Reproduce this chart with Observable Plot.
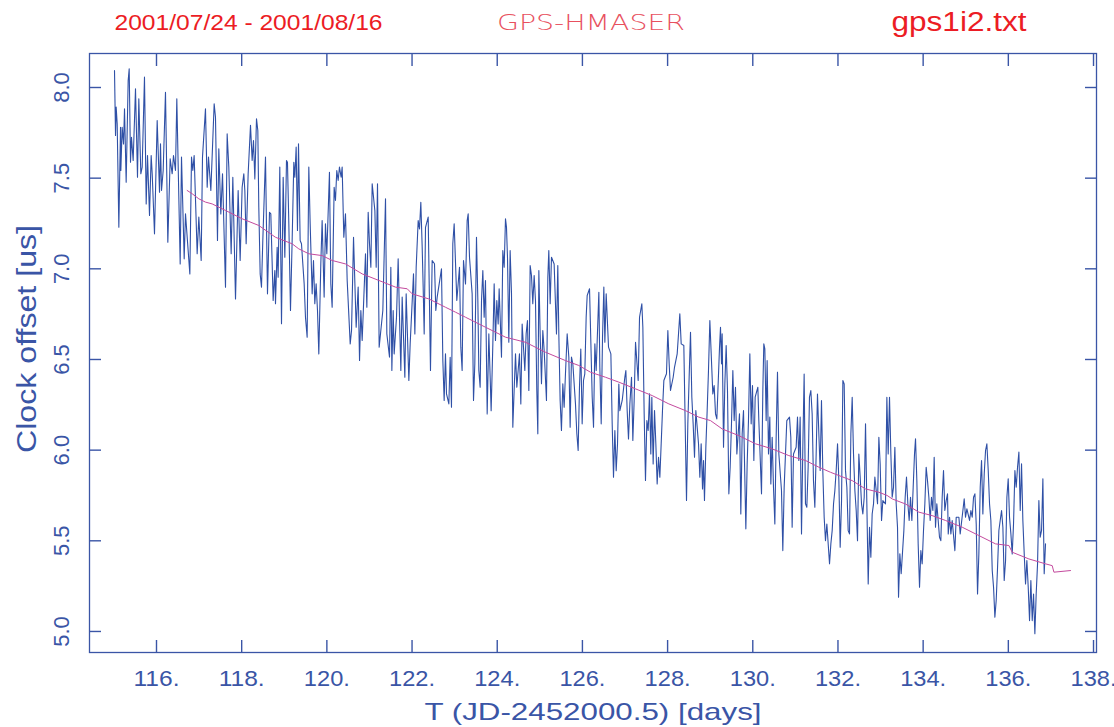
<!DOCTYPE html>
<html><head><meta charset="utf-8">
<script src="https://cdn.jsdelivr.net/npm/d3@7"></script>
<script src="https://cdn.jsdelivr.net/npm/@observablehq/plot@0.6"></script>
<style>
body{margin:0;background:#fff;}
#wrap{width:1114px;height:727px;}
</style></head><body><div id="wrap"></div>
<script>
// Clock offset (blue, raw) : [day, offset us]
const bluePoints = [
[115.014,8.094],[115.038,7.735],[115.053,7.892],[115.077,7.80],[115.116,7.23],[115.155,7.781],[115.163,7.542],[115.194,7.781],[115.226,7.689],[115.249,7.882],
[115.288,7.478],[115.335,8.039],[115.359,8.103],[115.39,7.588],[115.413,7.726],[115.452,7.597],[115.507,7.993],[115.554,7.505],[115.585,7.938],[115.632,7.524],
[115.664,7.561],[115.718,8.057],[115.758,7.358],[115.789,7.625],[115.836,7.294],[115.875,7.625],[115.899,7.524],[115.953,7.193],[116.016,7.818],[116.071,7.423],
[116.094,7.689],[116.118,7.432],[116.157,7.542],[116.211,7.974],[116.266,7.147],[116.321,7.607],[116.368,7.524],[116.399,7.625],[116.446,7.542],[116.477,7.938],
[116.556,7.027],[116.587,7.616],[116.65,7.055],[116.681,7.303],[116.783,6.972],[116.822,7.616],[116.853,7.542],[116.884,7.625],[116.955,7.083],[116.994,7.285],
[117.049,7.046],[117.08,7.616],[117.15,7.882],[117.19,7.45],[117.221,7.616],[117.276,7.432],[117.354,7.91],[117.385,7.836],[117.432,7.156],[117.463,7.662],
[117.51,7.303],[117.55,7.524],[117.62,6.899],[117.659,7.744],[117.698,7.561],[117.753,7.083],[117.792,7.505],[117.855,6.834],[117.917,7.432],[117.964,7.046],
[118.011,7.45],[118.05,7.524],[118.074,7.432],[118.105,7.138],[118.152,7.524],[118.207,7.791],[118.246,7.597],[118.277,7.708],[118.309,7.496],[118.348,7.827],
[118.379,7.763],[118.402,7.34],[118.434,6.972],[118.465,6.899],[118.496,7.156],[118.559,7.616],[118.606,6.862],[118.653,7.312],[118.684,7.303],[118.716,7.028],
[118.739,6.825],[118.778,6.991],[118.794,6.807],[118.833,7.119],[118.856,6.954],[118.895,7.561],[118.935,6.697],[118.974,7.505],[119.013,7.064],[119.052,7.597],
[119.075,7.588],[119.107,7.248],[119.146,6.77],[119.185,7.156],[119.224,7.588],[119.248,7.505],[119.279,7.671],[119.31,7.211],[119.334,7.689],[119.373,7.156],
[119.404,7.138],[119.467,6.917],[119.498,6.733],[119.537,6.623],[119.576,7.561],[119.608,7.248],[119.655,6.862],[119.686,7.046],[119.717,6.807],[119.748,6.917],
[119.78,6.77],[119.811,6.531],[119.858,7.028],[119.889,7.266],[119.936,6.844],[119.967,7.248],[119.999,7.083],[120.061,7.533],[120.093,6.917],[120.124,6.788],
[120.171,7.45],[120.202,7.377],[120.233,7.542],[120.265,7.487],[120.296,7.561],[120.335,7.505],[120.359,7.561],[120.398,7.174],[120.437,7.303],[120.477,6.936],
[120.548,6.586],[120.579,6.66],[120.626,7.174],[120.688,6.678],[120.735,6.899],[120.767,6.494],[120.798,6.77],[120.829,6.605],[120.868,6.844],[120.907,7.083],
[120.939,6.788],[120.97,7.312],[121.001,7.138],[121.033,7.009],[121.064,7.469],[121.127,7.321],[121.158,7.009],[121.189,7.469],[121.228,6.568],[121.314,6.77],
[121.377,7.386],[121.408,6.641],[121.471,6.513],[121.502,7.009],[121.526,6.439],[121.557,6.77],[121.58,6.531],[121.635,6.733],[121.674,7.055],[121.713,6.66],
[121.737,6.439],[121.768,6.844],[121.831,6.402],[121.862,6.862],[121.925,6.384],[121.956,6.586],[122.034,6.972],[122.066,6.641],[122.097,7.009],[122.144,7.266],
[122.175,7.22],[122.206,7.367],[122.238,7.119],[122.261,6.899],[122.285,6.641],[122.316,7.229],[122.379,7.285],[122.433,6.439],[122.472,7.046],[122.527,7.028],
[122.558,6.77],[122.59,6.844],[122.691,7.0],[122.723,6.494],[122.754,6.274],[122.785,6.531],[122.809,6.31],[122.864,6.255],[122.895,6.512],[122.926,6.237],
[122.957,7.138],[122.989,7.248],[123.051,6.825],[123.114,7.009],[123.145,6.568],[123.176,6.439],[123.208,7.046],[123.255,6.917],[123.294,7.266],[123.318,7.303],
[123.349,7.064],[123.411,6.862],[123.443,6.274],[123.474,6.476],[123.513,7.174],[123.545,6.825],[123.568,6.439],[123.599,6.347],[123.631,6.825],[123.662,6.991],
[123.693,6.733],[123.724,6.936],[123.764,6.2],[123.803,6.641],[123.834,6.402],[123.857,6.218],[123.897,6.586],[123.928,6.917],[123.959,6.605],[123.99,6.825],
[124.022,6.696],[124.045,6.89],[124.077,6.678],[124.1,6.513],[124.131,7.101],[124.163,7.009],[124.194,7.276],[124.217,7.23],[124.241,7.064],[124.272,6.595],
[124.303,7.101],[124.335,6.862],[124.366,6.126],[124.397,6.329],[124.429,6.531],[124.46,6.347],[124.491,6.439],[124.522,6.531],[124.554,6.255],[124.585,6.696],
[124.648,6.439],[124.679,6.641],[124.71,6.715],[124.742,6.329],[124.773,7.018],[124.804,6.963],[124.835,6.807],[124.867,6.963],[124.898,6.825],[124.929,6.329],
[124.953,6.09],[124.977,6.991],[125.008,6.641],[125.039,6.366],[125.07,6.66],[125.102,6.549],[125.156,6.274],[125.188,6.954],[125.211,7.101],[125.243,6.807],
[125.274,7.064],[125.336,7.027],[125.391,6.641],[125.422,7.018],[125.446,6.641],[125.477,6.274],[125.508,6.108],[125.54,6.366],[125.571,6.237],[125.602,6.421],
[125.642,6.641],[125.681,6.513],[125.712,6.126],[125.743,6.513],[125.775,6.476],[125.837,6.255],[125.869,6.09],[125.9,5.998],[125.931,6.347],[125.962,6.558],
[125.994,6.145],[126.025,6.384],[126.056,6.421],[126.088,6.733],[126.112,6.853],[126.167,6.89],[126.23,6.292],[126.261,6.126],[126.292,6.586],[126.323,6.439],
[126.386,6.871],[126.409,6.457],[126.441,6.145],[126.472,6.623],[126.503,6.899],[126.527,6.595],[126.558,6.862],[126.613,6.568],[126.668,6.531],[126.699,6.145],
[126.73,5.851],[126.762,6.108],[126.793,5.887],[126.824,6.034],[126.855,6.365],[126.879,6.218],[126.934,6.274],[126.996,6.402],[127.02,6.439],[127.051,6.218],
[127.082,6.062],[127.114,6.255],[127.153,6.402],[127.184,6.053],[127.215,6.274],[127.247,6.595],[127.309,6.384],[127.341,6.733],[127.395,6.807],[127.419,6.678],
[127.45,6.2],[127.481,5.833],[127.513,6.163],[127.544,6.108],[127.575,6.311],[127.606,5.979],[127.63,6.292],[127.661,5.924],[127.693,6.218],[127.724,6.035],
[127.755,5.814],[127.787,5.961],[127.818,5.851],[127.88,6.218],[127.912,6.384],[127.974,6.421],[128.006,6.66],[128.037,6.476],[128.068,6.329],[128.131,6.402],
[128.162,6.457],[128.225,6.531],[128.256,6.641],[128.287,6.752],[128.319,6.586],[128.381,6.577],[128.444,5.722],[128.475,6.145],[128.506,6.402],[128.538,6.65],
[128.569,6.292],[128.6,6.145],[128.632,5.961],[128.663,6.218],[128.726,6.035],[128.757,5.851],[128.788,6.035],[128.82,5.786],[128.843,5.943],[128.866,5.722],
[128.898,6.016],[128.929,6.218],[128.96,6.439],[128.992,6.715],[129.062,6.31],[129.093,6.356],[129.125,6.2],[129.156,6.172],[129.219,6.568],[129.242,6.678],
[129.266,6.476],[129.281,6.641],[129.313,6.016],[129.344,6.365],[129.375,6.577],[129.406,6.329],[129.438,5.759],[129.469,5.906],[129.5,6.145],[129.532,6.439],
[129.563,6.163],[129.594,6.347],[129.626,5.979],[129.688,6.2],[129.719,5.648],[129.751,6.09],[129.782,6.218],[129.837,5.566],[129.868,5.924],[129.899,6.163],
[129.931,6.531],[129.962,6.145],[129.993,6.356],[130.025,5.943],[130.056,6.292],[130.119,6.347],[130.142,6.163],[130.205,5.759],[130.236,6.329],[130.259,6.586],
[130.283,6.558],[130.314,6.163],[130.337,6.494],[130.369,5.979],[130.4,6.182],[130.424,5.814],[130.455,6.071],[130.486,5.796],[130.518,5.593],[130.549,6.071],
[130.58,6.43],[130.612,5.979],[130.674,5.777],[130.705,5.446],[130.737,5.796],[130.799,6.163],[130.862,6.182],[130.893,6.071],[130.924,5.575],[130.956,5.979],
[131.018,6.016],[131.05,6.182],[131.081,5.943],[131.112,6.182],[131.144,5.538],[131.175,6.016],[131.206,6.42],[131.237,5.704],[131.269,5.685],[131.3,5.906],
[131.331,6.292],[131.363,6.329],[131.394,6.2],[131.425,5.832],[131.457,5.685],[131.488,5.979],[131.519,6.31],[131.551,6.09],[131.582,5.888],[131.613,6.273],
[131.644,5.888],[131.676,5.63],[131.707,5.501],[131.739,5.593],[131.802,5.373],[131.833,5.483],[131.864,5.556],[131.896,5.704],[131.927,5.777],[131.958,5.887],
[131.99,6.035],[132.021,5.832],[132.052,5.465],[132.084,5.722],[132.115,6.384],[132.146,6.365],[132.177,5.887],[132.209,5.795],[132.24,5.556],[132.271,5.538],
[132.303,6.09],[132.334,6.292],[132.365,5.979],[132.397,5.777],[132.428,5.667],[132.459,5.501],[132.49,5.979],[132.522,5.851],[132.553,5.704],[132.584,5.648],
[132.616,5.74],[132.647,6.145],[132.678,5.704],[132.71,5.262],[132.741,5.575],[132.772,5.409],[132.803,5.648],[132.835,5.704],[132.866,5.851],[132.929,5.704],
[132.96,6.071],[132.991,5.924],[133.023,5.612],[133.054,5.722],[133.116,5.704],[133.148,6.292],[133.179,5.979],[133.21,6.292],[133.242,5.979],[133.273,5.74],
[133.304,5.795],[133.336,6.016],[133.367,5.704],[133.398,5.575],[133.422,5.189],[133.453,5.428],[133.484,5.318],[133.547,5.556],[133.578,5.74],[133.609,5.851],
[133.641,5.704],[133.672,5.612],[133.703,5.74],[133.735,5.612],[133.766,5.795],[133.797,5.979],[133.821,6.062],[133.852,5.832],[133.883,5.483],[133.915,5.244],
[133.946,5.446],[133.977,5.373],[134.008,5.556],[134.04,5.704],[134.071,5.906],[134.102,5.832],[134.134,5.74],[134.165,5.612],[134.196,5.74],[134.228,5.667],
[134.259,5.961],[134.29,5.575],[134.321,5.704],[134.353,5.612],[134.384,5.52],[134.415,5.501],[134.447,5.74],[134.478,5.887],[134.509,5.667],[134.541,5.722],
[134.572,5.759],[134.589,5.538],[134.62,5.63],[134.651,5.538],[134.682,5.612],[134.745,5.446],[134.776,5.63],[134.839,5.63],[134.87,5.538],[134.933,5.667],
[134.964,5.731],[134.995,5.63],[135.027,5.676],[135.089,5.612],[135.121,5.667],[135.152,5.63],[135.183,5.74],[135.215,5.759],[135.246,5.593],[135.277,5.207],
[135.308,5.428],[135.34,5.795],[135.371,5.943],[135.402,5.648],[135.434,5.869],[135.465,5.998],[135.496,6.035],[135.528,5.887],[135.559,5.703],[135.59,5.612],
[135.622,5.336],[135.653,5.244],[135.684,5.079],[135.715,5.171],[135.747,5.354],[135.778,5.557],[135.809,5.612],[135.841,5.667],[135.872,5.575],[135.903,5.281],
[135.935,5.391],[135.966,5.74],[135.997,5.842],[136.028,5.63],[136.06,5.538],[136.091,5.428],[136.122,5.593],[136.154,5.887],[136.185,5.795],[136.216,5.906],
[136.248,5.989],[136.279,5.667],[136.31,5.924],[136.341,5.612],[136.373,5.428],[136.404,5.262],[136.435,5.391],[136.467,5.244],[136.498,5.06],[136.529,5.281],
[136.561,5.06],[136.592,5.207],[136.623,4.987],[136.654,5.207],[136.686,5.373],[136.717,5.722],[136.748,5.52],[136.78,5.557],[136.811,5.842],[136.842,5.318],
[136.873,5.483]
];
// Smoothed trend (magenta) : [day, offset us]
const trendPoints = [
[116.72,7.432],[116.838,7.414],[116.994,7.386],[117.15,7.368],[117.307,7.358],[117.463,7.34],[117.62,7.322],[118.011,7.276],[118.402,7.239],[118.794,7.174],
[119.185,7.138],[119.341,7.11],[119.576,7.083],[119.889,7.073],[120.124,7.046],[120.438,7.027],[120.829,6.972],[121.22,6.936],[121.612,6.899],[121.886,6.89],
[122.003,6.862],[122.394,6.834],[122.785,6.788],[123.02,6.761],[123.255,6.733],[123.724,6.678],[124.194,6.623],[124.663,6.595],[125.133,6.54],[125.602,6.494],
[125.915,6.467],[126.189,6.43],[126.542,6.402],[126.855,6.375],[127.247,6.338],[127.638,6.301],[128.029,6.255],[128.42,6.218],[128.733,6.182],[129.007,6.163],
[129.281,6.117],[129.672,6.08],[130.064,6.035],[130.455,6.007],[130.846,5.97],[131.237,5.943],[131.551,5.906],[131.824,5.878],[132.021,5.86],[132.334,5.832],
[132.647,5.786],[132.96,5.768],[133.155,5.75],[133.273,5.731],[133.586,5.703],[133.899,5.658],[134.212,5.639],[134.526,5.612],[134.917,5.575],[135.308,5.529],
[135.7,5.483],[136.013,5.474],[136.091,5.437],[136.482,5.4],[136.873,5.373],[137.03,5.363],[137.07,5.327],[137.46,5.336]
];
const xTicks = [116,118,120,122,124,126,128,130,132,134,136,138];
const xTickLabels = ["116.","118.","120.","122.","124.","126.","128.","130.","132.","134.","136.","138."];
const yTicks = [5.0,5.5,6.0,6.5,7.0,7.5,8.0];
const yTickLabels = ["5.0","5.5","6.0","6.5","7.0","7.5","8.0"];
const titleLeft = "2001/07/24 - 2001/08/16";
const titleMid = "GPS-HMASER";
const titleRight = "gps1i2.txt";
const xLabel = "T (JD-2452000.5) [days]";
const yLabel = "Clock offset [us]";

const blue = bluePoints.map(([t, v]) => ({t, v}));
const trend = trendPoints.map(([t, v]) => ({t, v}));

const AX = "#3a55a6";
const RED = "#ec1c24";
const FONT = "'Liberation Sans', Arial, sans-serif";

const chart = Plot.plot({
  width: 1114, height: 727,
  marginLeft: 89, marginRight: 18, marginTop: 53, marginBottom: 75,
  style: {fontFamily: FONT, background: "#fff", overflow: "visible"},
  x: {domain: [114.427, 138.07], axis: null},
  y: {domain: [4.884, 8.1875], axis: null},
  marks: [
    Plot.line(blue, {x: "t", y: "v", stroke: "#2f50a6", strokeWidth: 1.1}),
    Plot.line(trend, {x: "t", y: "v", stroke: "#c44a9e", strokeWidth: 1}),
    Plot.frame({stroke: AX, strokeWidth: 1.3}),
    Plot.axisX({anchor: "bottom", ticks: xTicks, tickSize: -12, stroke: AX, strokeWidth: 1.4, fill: "none", label: null}),
    Plot.axisX({anchor: "top", ticks: xTicks, tickSize: -12, stroke: AX, strokeWidth: 1.4, fill: "none", label: null}),
    Plot.axisY({anchor: "left", ticks: yTicks, tickSize: -12, stroke: AX, strokeWidth: 1.4, fill: "none", label: null}),
    Plot.axisY({anchor: "right", ticks: yTicks, tickSize: -12, stroke: AX, strokeWidth: 1.4, fill: "none", label: null}),
    Plot.text(xTicks, {x: d => d, frameAnchor: "bottom", dy: 26, text: (d, i) => xTickLabels[i], fill: AX, fontSize: 22, lineAnchor: "middle", textAnchor: "middle"}),
    Plot.text(yTicks, {y: d => d, frameAnchor: "left", dx: -28, rotate: -90, text: (d, i) => yTickLabels[i], fill: AX, fontSize: 22, lineAnchor: "middle", textAnchor: "middle"}),
    Plot.text([xLabel], {frameAnchor: "bottom", dy: 60, text: d => d, fill: AX, fontSize: 24, lineAnchor: "middle"}),
    Plot.text([yLabel], {frameAnchor: "left", dx: -62, dy: 100, rotate: -90, text: d => d, fill: AX, fontSize: 27, textAnchor: "start", lineAnchor: "middle"}),
    Plot.text([titleLeft], {frameAnchor: "top-left", dx: 25, dy: -31, text: d => d, fill: RED, fontSize: 22, textAnchor: "start", lineAnchor: "middle"}),
    Plot.text([titleMid], {frameAnchor: "top", dx: -2, dy: -31, text: d => d, fill: "#e8505e", fontSize: 22, fontWeight: 200, fontFamily: "'DejaVu Sans', sans-serif", textAnchor: "middle", lineAnchor: "middle"}),
    Plot.text([titleRight], {frameAnchor: "top-right", dx: -70, dy: -31, text: d => d, fill: RED, fontSize: 27, textAnchor: "end", lineAnchor: "middle"})
  ]
});

// stretch texts horizontally to match the reference's wide lettering
const stretch = {};
stretch[xLabel] = 337; stretch[yLabel] = 228;
stretch[titleLeft] = 268; stretch[titleMid] = 188; stretch[titleRight] = 135;
xTickLabels.forEach(l => stretch[l] = 46);
d3.select(chart).selectAll("text").each(function() {
  const w = stretch[this.textContent];
  if (w) d3.select(this).attr("textLength", w).attr("lengthAdjust", "spacingAndGlyphs");
});

document.getElementById("wrap").appendChild(chart);
</script>
</body></html>
